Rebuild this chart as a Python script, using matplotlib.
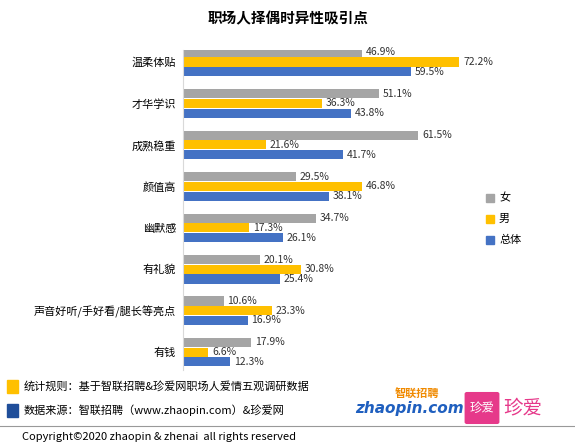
import matplotlib
matplotlib.use("Agg")
import matplotlib.pyplot as plt
from matplotlib.patches import Rectangle, FancyBboxPatch
import numpy as np

plt.rcParams['font.family'] = ['Noto Sans CJK SC', 'DejaVu Sans']

categories = ["温柔体贴", "才华学识", "成熟稳重", "颜值高", "幽默感", "有礼貌", "声音好听/手好看/腿长等亮点", "有钱"]
female = [46.9, 51.1, 61.5, 29.5, 34.7, 20.1, 10.6, 17.9]
male = [72.2, 36.3, 21.6, 46.8, 17.3, 30.8, 23.3, 6.6]
overall = [59.5, 43.8, 41.7, 38.1, 26.1, 25.4, 16.9, 12.3]
series_names = ["女", "男", "总体"]
colors = ["#A5A5A5", "#FFC000", "#4472C4"]

W, H = 575, 447
fig = plt.figure(figsize=(W/100, H/100), dpi=100)
ax = fig.add_axes([183/W, 1-370/H, 287/W, 320/H])

y = np.arange(len(categories))
bh = 0.22
off = 0.235
for vals, dy, c in zip([female, male, overall], [-off, 0, off], colors):
    ax.barh(y + dy, vals, height=bh, color=c)
    for yi, v in zip(y + dy, vals):
        ax.text(v + 1.0, yi, f"{v}%", va="center", ha="left", fontsize=7.5, color="#333333")

ax.set_xlim(0, 75)
ax.set_ylim(7.43, -0.29)
ax.set_yticks(y)
ax.set_yticklabels(categories, fontsize=8)
ax.tick_params(axis="y", length=0, pad=5)
ax.set_xticks([])
for s in ["top", "right", "bottom"]:
    ax.spines[s].set_visible(False)
ax.spines["left"].set_color("#D9D9D9")

fig.text(288/W, 1-18/H, "职场人择偶时异性吸引点", ha="center", va="center", fontsize=10.5, fontweight="bold")

# legend
for i, (n, c) in enumerate(zip(series_names, colors)):
    yy = 198 + i * 21
    fig.patches.append(Rectangle((486/W, 1-(yy+4)/H), 8/W, 8/H, color=c, transform=fig.transFigure))
    fig.text(499/W, 1-yy/H, n, va="center", ha="left", fontsize=8)

# footer
fig.patches.append(Rectangle((7/W, 1-393/H), 11/W, 13/H, color="#FFC000", transform=fig.transFigure))
fig.text(24/W, 1-386/H, "统计规则：基于智联招聘&珍爱网职场人爱情五观调研数据", va="center", fontsize=8)
fig.patches.append(Rectangle((7/W, 1-417/H), 11/W, 13/H, color="#1F4E9A", transform=fig.transFigure))
fig.text(24/W, 1-410/H, "数据来源：智联招聘（www.zhaopin.com）&珍爱网", va="center", fontsize=8)

fig.text(355/W, 1-408/H, "zhaopin.com", va="center", fontsize=11, fontweight="bold", color="#1F5FBF", style="italic", family="DejaVu Sans")
fig.text(395/W, 1-394/H, "智联招聘", va="center", fontsize=8, fontweight="bold", color="#F08A00")
fig.patches.append(FancyBboxPatch((467/W, 1-422/H), 30/W, 28/H, boxstyle="round,pad=0.003", color="#E6398A", transform=fig.transFigure))
fig.text(482/W, 1-408/H, "珍爱", va="center", ha="center", fontsize=9, color="white")
fig.text(503/W, 1-408/H, "珍爱", va="center", ha="left", fontsize=14, color="#E6398A")

fig.add_artist(plt.Line2D([0, 1], [1-426/H, 1-426/H], color="#999999", lw=0.8, transform=fig.transFigure))
fig.text(22/W, 1-437/H, "Copyright©2020 zhaopin & zhenai  all rights reserved", va="center", fontsize=8)

fig.savefig("out.png", dpi=100)
